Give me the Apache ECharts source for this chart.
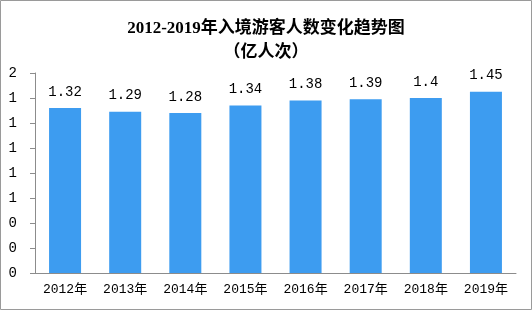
<!DOCTYPE html>
<html><head><meta charset="utf-8">
<script src="https://cdn.jsdelivr.net/npm/echarts@6/dist/echarts.min.js"></script>
<style>html,body{margin:0;padding:0;background:#fff}#c{width:532px;height:310px}</style>
</head><body><div id="c"></div>
<script>
var categories = ['2012年','2013年','2014年','2015年','2016年','2017年','2018年','2019年'];
var values = [1.32, 1.29, 1.28, 1.34, 1.38, 1.39, 1.4, 1.45];
var yTickLabels = ['0','0','0','1','1','1','1','1','2'];
var titleText = '2012-2019年入境游客人数变化趋势图\n（亿人次）';

var chart = echarts.init(document.getElementById('c'), null, {renderer:'canvas'});
chart.setOption({
  animation: false,
  backgroundColor: '#fff',
  title: {
    text: titleText,
    left: 'center', top: 12,
    textStyle: {fontFamily: "'Liberation Serif','Noto Sans CJK SC'", fontSize: 17, fontWeight: 'bold', color: '#000', lineHeight: 24}
  },
  graphic: [{type:'rect', shape:{x:0.5,y:0.5,width:531,height:309}, style:{fill:'none', stroke:'#9a9a9a', lineWidth:1}, silent:true}],
  grid: {left: 35, right: 16, top: 73, bottom: 37},
  xAxis: {
    type: 'category', data: categories,
    axisLine: {lineStyle: {color: '#8c8c8c'}},
    axisTick: {length: 4, lineStyle: {color: '#8c8c8c'}},
    axisLabel: {fontFamily: "'Liberation Mono','Noto Sans CJK SC'", fontSize: 13, color: '#000', margin: 10}
  },
  yAxis: {
    type: 'value', min: 0, max: 1.6, interval: 0.2,
    splitLine: {show: false},
    axisLine: {show: true, lineStyle: {color: '#8c8c8c'}},
    axisTick: {show: true, length: 5, lineStyle: {color: '#8c8c8c'}},
    axisLabel: {
      fontFamily: "'Liberation Mono'", fontSize: 14, color: '#000', margin: 18,
      formatter: function(v){ var i = Math.round(v/0.2); return yTickLabels[i]; }
    }
  },
  series: [{
    type: 'bar', data: values, barWidth: 32,
    itemStyle: {color: '#3d9cf0'},
    label: {show: true, position: 'top', distance: 9, fontFamily: "'Liberation Mono'", fontSize: 14, color: '#000'}
  }]
});
</script></body></html>
